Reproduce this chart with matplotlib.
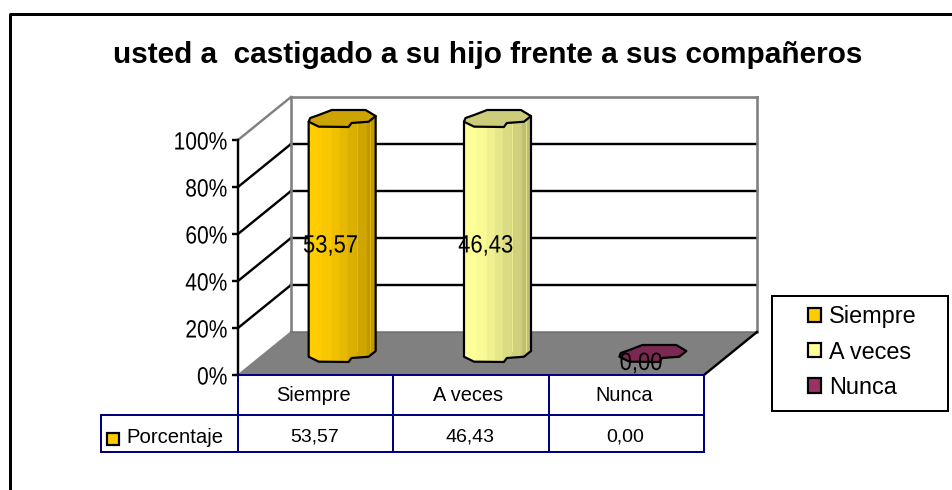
import matplotlib
matplotlib.use("Agg")
import matplotlib.pyplot as plt
from matplotlib.patches import Polygon, Rectangle, Patch
from matplotlib.lines import Line2D
from matplotlib.patheffects import AbstractPathEffect
from matplotlib.transforms import Affine2D
from matplotlib.ticker import PercentFormatter
from matplotlib.colors import to_rgb

title = "usted a  castigado a su hijo frente a sus compañeros"
categories = ["Siempre", "A veces", "Nunca"]
values = [53.57, 46.43, 0.00]
colors = ["#FFCC00", "#FFFF99", "#993366"]
series_name = "Porcentaje"
yticks = [0, 20, 40, 60, 80, 100]

W, H = 952, 490
PX = 72 / 100  # one pixel in points
plt.rcParams["font.family"] = ["Liberation Sans", "DejaVu Sans"]


class Squeeze(AbstractPathEffect):
    """Draw text horizontally condensed, as the tight labels of the original."""

    def __init__(self, sx, anchor="center"):
        super().__init__()
        self.sx, self.anchor = sx, anchor

    def draw_path(self, renderer, gc, tpath, affine, rgbFace=None):
        e = affine.transform_path(tpath).get_extents()
        a = e.x1 if self.anchor == "right" else (e.x0 + e.x1) / 2
        t = affine + Affine2D().translate(-a, 0).scale(self.sx, 1).translate(a, 0)
        renderer.draw_path(gc, tpath, t, rgbFace)


fig = plt.figure(figsize=(W / 100, H / 100), dpi=100, facecolor="white")
ax = fig.add_axes([238 / W, (H - 375) / H, 466 / W, 235 / H])
ax.set_xlim(0, 3)
ax.set_ylim(0, 100)
ax.patch.set_visible(False)

DX, DY = 53 / (466 / 3), 43 / 2.35   # depth offsets in data units
XU, YU = 466 / 3, 2.35               # pixels per data unit


def proj(x, y, d):
    return x + d * DX, y + d * DY


def seg(p, q, color, lw=2.0, z=2):
    ax.plot([p[0], q[0]], [p[1], q[1]], color=color, lw=lw * PX, zorder=z,
            clip_on=False, solid_capstyle="projecting")


GREY = "#808080"
# floor
ax.add_patch(Polygon([proj(0, 0, 0), proj(0, 0, 1), proj(3, 0, 1), proj(3, 0, 0)],
                     closed=True, fc=GREY, ec="none", zorder=1, clip_on=False))
# gridlines on side and back walls
for t in yticks[1:-1]:
    seg(proj(0, t, 0), proj(0, t, 1), "black", lw=2.4, z=1.5)
    seg(proj(0, t, 1), proj(3, t, 1), "black", lw=2.4, z=1.5)
# wall edges
seg(proj(0, 100, 0), proj(0, 100, 1), GREY, lw=2.4, z=1.6)
seg(proj(0, 100, 1), proj(3, 100, 1), GREY, lw=2.6, z=1.6)
seg(proj(0, 0, 1), proj(0, 100, 1), GREY, lw=2.6, z=1.6)
seg(proj(3, 0, 1), proj(3, 100, 1), GREY, lw=2.6, z=1.6)
seg(proj(0, 0, 0), proj(0, 0, 1), GREY, lw=1.5, z=1.6)
seg(proj(0, 0, 1), proj(3, 0, 1), "#6e6e6e", lw=1.5, z=1.6)
seg(proj(3, 0, 0), proj(3, 0, 1), "black", lw=2.4, z=1.6)

# y axis
for s in ["top", "right", "bottom"]:
    ax.spines[s].set_visible(False)
ax.spines["left"].set_linewidth(2.4 * PX)
ax.set_xticks([])
ax.set_yticks(yticks)
ax.yaxis.set_major_formatter(PercentFormatter(100, decimals=0))
ax.tick_params(axis="y", length=6 * PX, width=2.4 * PX, pad=4.5 * PX)
fig.canvas.draw()
for lab in ax.get_yticklabels():
    lab.set_fontsize(25 * PX)
    lab.set_path_effects([Squeeze(.84, "right")])

# cylinder cross-section (normalised facets)
shape = [(-1, -.38), (-.955, .06), (-.70, .41), (-.31, 1), (.70, 1), (1, .29),
         (.79, -.38), (.28, -.53), (.19, -1), (-.70, -.96)]
RX, RY = 33.5 / XU, 8.5 / YU
edges = [0, .194, .343, .463, .582, .716, .866, 1]
shade = [1, .975, .94, .90, .86, .81, .75]


def scale(c, f):
    return tuple(v * f for v in to_rgb(c))


for i, (v, c) in enumerate(zip(values, colors)):
    cx, cy0 = proj(i + .5, 0, .5)
    h = 100 if v > 0 else 0    # 100 % stacked: a non-empty series fills the column
    ring = lambda y: [(cx + a * RX, y + b * RY) for a, b in shape]
    base, top = ring(cy0), ring(cy0 + h)
    if h > 0:
        chain = [base[k] for k in (5, 6, 7, 8, 9, 0)] + [top[0], top[5]]
        body = Polygon(chain, closed=True, fc="none", ec="none", zorder=3, clip_on=False)
        ax.add_patch(body)
        for e0, e1, f in zip(edges[:-1], edges[1:], shade):
            r = Rectangle((cx - RX + 2 * RX * e0, cy0 - RY), 2 * RX * (e1 - e0), h + 2 * RY,
                          fc=scale(c, f), ec=scale(c, f), lw=.3, zorder=3.1)
            ax.add_patch(r)
            r.set_clip_box(fig.bbox)
            r.set_clip_path(body)
        for e, f in [(.716, .95), (.92, .9)]:
            xe = cx - RX + 2 * RX * e
            ax.plot([xe, xe], [cy0 + 1, cy0 + h], color=scale(c, f), lw=.8 * PX, zorder=3.15,
                    clip_on=False)
        ax.add_patch(Polygon(chain, closed=True, fc="none", ec="black", lw=2.2 * PX,
                             joinstyle="round", zorder=3.2, clip_on=False))
    ax.add_patch(Polygon(top, closed=True, fc=scale(c, .8), ec="black", lw=2.2 * PX,
                         joinstyle="round", zorder=3.3, clip_on=False))
    # data label
    lx, ly = proj(i + .5, h / 2, .28)
    ax.text(lx, ly, f"{v:.2f}".replace(".", ","), ha="center", va="center",
            fontsize=25 * PX, color="black", zorder=5, clip_on=False,
            path_effects=[Squeeze(.88)])

# data table
NAVY = "#000080"
R1, R2 = -40 / YU, -77 / YU
XL = -137 / XU
for a, b in [((0, 0), (3, 0)), ((0, R1), (3, R1)), ((XL, R1), (0, R1)), ((XL, R2), (3, R2)),
             ((XL, R1), (XL, R2)), ((0, 0), (0, R2)), ((1, 0), (1, R2)), ((2, 0), (2, R2)),
             ((3, 0), (3, R2))]:
    seg(a, b, NAVY, z=4)
for i, (cat, v) in enumerate(zip(categories, values)):
    ax.text(i + .5 - 2.5 / XU, R1 / 2 - .3, cat, ha="center", va="center", fontsize=20 * PX,
            clip_on=False)
    ax.text(i + .5 - 1 / XU, (R1 + R2) / 2 - 1.3, f"{v:.2f}".replace(".", ","), ha="center",
            va="center", fontsize=19.5 * PX, clip_on=False)
ax.add_patch(Rectangle((-131 / XU, R2 + 7 / YU), 12 / XU, 12.5 / YU, fc=colors[0], ec="black",
                       lw=2.2 * PX, zorder=5, clip_on=False))
ax.text(-112 / XU, (R1 + R2) / 2 - 1.8, series_name, ha="left", va="center",
        fontsize=20.3 * PX, clip_on=False)

# legend
fig.add_artist(Rectangle((772 / W, 1 - 411 / H), 176 / W, 115 / H, fc="white", ec="black",
                         lw=2 * PX, transform=fig.transFigure))
handles = [Patch(fc=c, ec="black", lw=2.2 * PX) for c in colors]
fig.legend(handles, categories, loc="upper left", bbox_to_anchor=(801 / W, 1 - 298 / H),
           frameon=False, fontsize=23.5 * PX, handlelength=.57, handleheight=.57,
           handletextpad=.33, labelspacing=.53, borderpad=.3, borderaxespad=0)

# outer frame and title
fig.add_artist(Line2D([10 / W, 10 / W, 1], [0, 1 - 14 / H, 1 - 14 / H], color="black", lw=3 * PX,
                      transform=fig.transFigure))
fig.text(487.5 / W, 1 - 55 / H, title, ha="center", va="center", fontsize=21.4,
         fontweight="bold", color="black")

fig.savefig("out.png", dpi=100, facecolor="white")
